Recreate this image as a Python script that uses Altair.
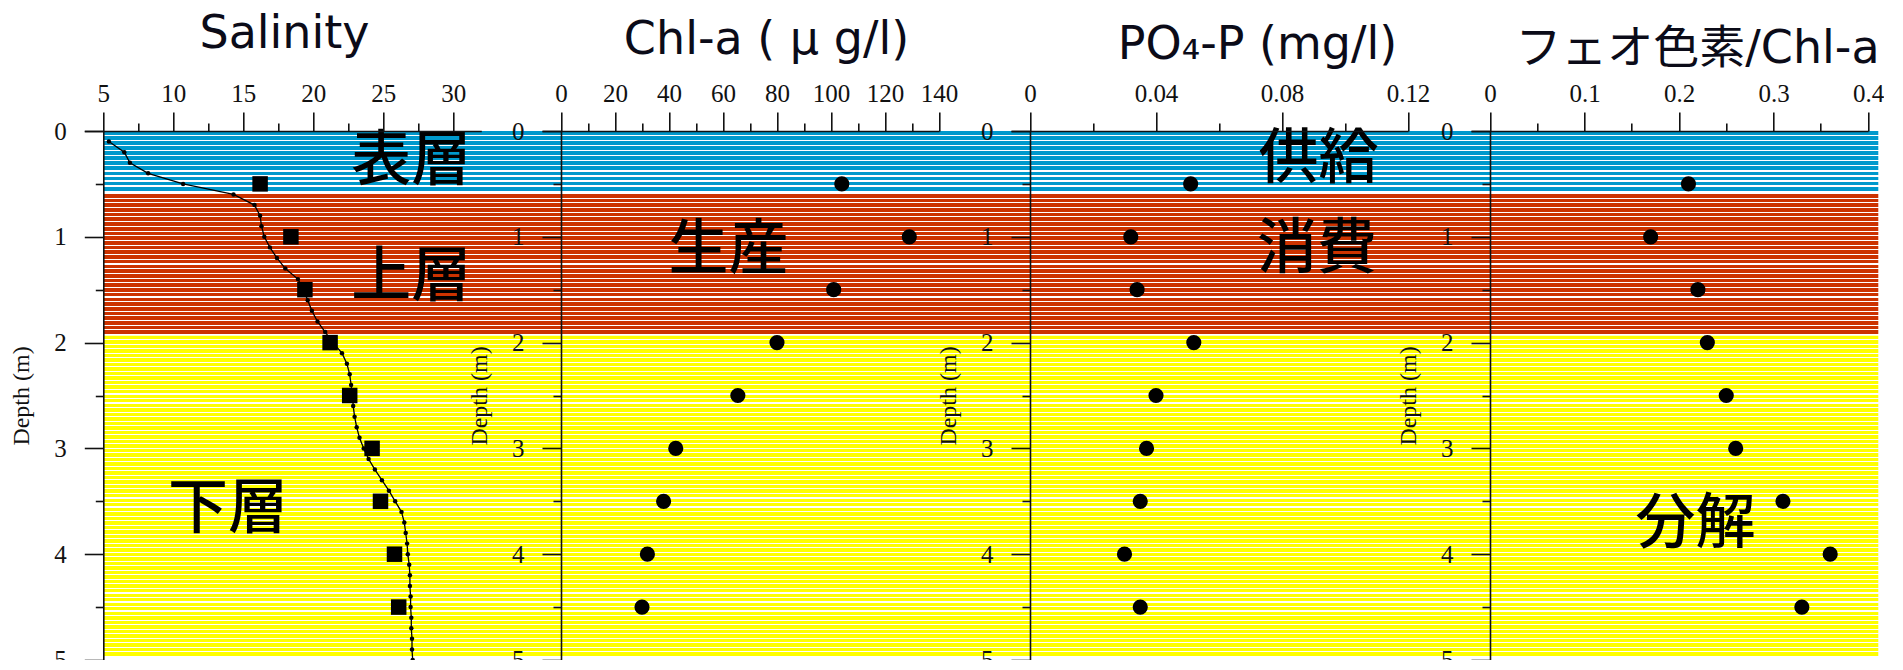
import altair as alt
import pandas as pd

# ---------------- data ----------------
sample_depth = [0.5, 1.0, 1.5, 2.0, 2.5, 3.0, 3.5, 4.0, 4.5]
salinity_sample = [16.2, 18.4, 19.4, 21.2, 22.6, 24.2, 24.8, 25.8, 26.1]
chla = [104, 129, 101, 80, 65.5, 42.5, 38, 32, 30]
po4p = [0.051, 0.032, 0.034, 0.052, 0.040, 0.037, 0.035, 0.030, 0.035]
phaeo_ratio = [0.21, 0.17, 0.22, 0.23, 0.25, 0.26, 0.31, 0.36, 0.33]

profile_depth = [0.1, 0.2, 0.3, 0.4, 0.5, 0.6, 0.7, 0.8, 0.9, 1.0,
                 1.1, 1.2, 1.3, 1.4, 1.5, 1.6, 1.7, 1.8, 1.9, 2.0,
                 2.1, 2.2, 2.3, 2.4, 2.5, 2.6, 2.7, 2.8, 2.9, 3.0,
                 3.1, 3.2, 3.3, 3.4, 3.5, 3.6, 3.7, 3.8, 3.9, 4.0,
                 4.1, 4.2, 4.3, 4.4, 4.5, 4.6, 4.7, 4.8, 4.9, 5.0]
profile_salinity = [5.4, 6.5, 6.9, 8.2, 10.7, 14.3, 15.8, 16.2, 16.3, 16.5,
                    16.9, 17.4, 18.0, 18.9, 19.3, 19.6, 19.9, 20.3, 20.85, 21.4,
                    22.05, 22.4, 22.6, 22.7, 22.8, 22.85, 22.95, 23.1, 23.3, 23.6,
                    23.95, 24.4, 24.9, 25.4, 25.85, 26.3, 26.5, 26.6, 26.7, 26.75,
                    26.85, 26.9, 26.9, 26.95, 26.95, 27.0, 27.0, 27.05, 27.05, 27.1]

band_name = ["surface", "upper", "lower"]
band_top = [0.0, 0.595, 1.935]
band_bottom = [0.575, 1.93, 4.97]
band_color = ["#0099cc", "#cc3300", "#ffff00"]

panel_title = ["Salinity", "Chl-a ( μ g/l)", "PO₄-P (mg/l)", "フェオ色素/Chl-a"]
x_domain = [[5, 32], [0, 140], [0, 0.12], [0, 0.4]]
x_major = [[5, 10, 15, 20, 25, 30],
           [0, 20, 40, 60, 80, 100, 120, 140],
           [0, 0.04, 0.08, 0.12],
           [0, 0.1, 0.2, 0.3, 0.4]]
x_minor = [[7.5, 12.5, 17.5, 22.5, 27.5],
           [10, 30, 50, 70, 90, 110, 130],
           [0.02, 0.06, 0.10],
           [0.05, 0.15, 0.25, 0.35]]
depth_major = [0, 1, 2, 3, 4, 5]
depth_minor = [0.5, 1.5, 2.5, 3.5, 4.5]

anno_panel = [0, 0, 0, 1, 2, 2, 3]
anno_text = ["表層", "上層", "下層", "生産", "供給", "消費", "分解"]
anno_x = [27.0, 27.0, 13.9, 62.0, 0.0916, 0.0911, 0.2175]
anno_depth = [0.29, 1.39, 3.58, 1.13, 0.27, 1.125, 3.72]

# ---------------- layout (pixels) ----------------
X0, Y0 = 103.3, 131.0          # page position of plot origin
W, H = 1775, 529               # plot area
PANEL_W = 378
EXT = 19                       # top axis line extends left to the tick ends
panel_start = [0, 457.7, 926.7, 1386.7]
title_cx = [284, 766, 1257, 1697]
title_base = [47, 53, 58, 62]

SERIF = "Liberation Serif"
TITLE_FONT = "DejaVu Sans, Noto Sans CJK JP"
CJK = "Noto Sans CJK JP"

yscale = alt.Scale(domain=[0, 5], range=[0, H], nice=False, zero=False)


def xscale(i):
    lo, hi = x_domain[i]
    per = (hi - lo) / PANEL_W
    s = panel_start[i]
    return alt.Scale(domain=[lo - EXT * per, hi], range=[s - EXT, s + PANEL_W],
                     nice=False, zero=False)


def x_axis_major(i):
    return alt.Axis(orient="top", values=x_major[i], labelExpr="'' + datum.value",
                    labelOverlap=False, labelFlush=False, tickSize=19,
                    labelPadding=6, labelFont=SERIF, labelFontSize=25, zindex=2,
                    title=panel_title[i], titleFont=TITLE_FONT, titleFontSize=46,
                    titleFontWeight="normal", titleColor="#0b0b18",
                    titleX=title_cx[i] - X0, titleY=title_base[i] - Y0,
                    titleAlign="center", titleBaseline="alphabetic", titleAngle=0)


def x_axis_minor(i):
    return alt.Axis(orient="top", values=x_minor[i], tickSize=8, labels=False,
                    domain=False, title=None, zindex=2)


def y_axis_major(i):
    return alt.Axis(orient="left", offset=-panel_start[i], values=depth_major,
                    labelExpr="'' + datum.value", labelOverlap=False,
                    labelFlush=False, tickSize=19, labelPadding=18,
                    labelFont=SERIF, labelFontSize=25, title="Depth (m)",
                    titleFont=SERIF, titleFontSize=24, titleFontWeight="normal",
                    titlePadding=20, zindex=2)


def y_axis_minor(i):
    return alt.Axis(orient="left", offset=-panel_start[i], values=depth_minor,
                    tickSize=8, labels=False, domain=False, title=None, zindex=2)


# ---------------- stripes for the background bands ----------------
def stripes(color, height_px, period, white):
    n = max(1, round(height_px / period))
    f = 1 - white / period
    stops = []
    for k in range(n):
        a, b, c = k / n, (k + f) / n, (k + 1) / n
        stops += [alt.GradientStop(color=color, offset=a),
                  alt.GradientStop(color=color, offset=b),
                  alt.GradientStop(color="white", offset=b),
                  alt.GradientStop(color="white", offset=min(c, 1.0))]
    return alt.LinearGradient(gradient="linear", stops=stops, x1=0, x2=0, y1=0, y2=1)


band_df = pd.DataFrame({"band": band_name, "top": band_top, "bottom": band_bottom})
periods = [5.1, 4.7, 4.5]
whites = [1.3, 1.1, 1.1]
band_layers = []
for j, name in enumerate(band_name):
    hpx = (band_bottom[j] - band_top[j]) * H / 5
    band_layers.append(
        alt.Chart(band_df).transform_filter(alt.datum.band == name)
        .mark_rect(fill=stripes(band_color[j], hpx, periods[j], whites[j]), opacity=1)
        .encode(y=alt.Y("top:Q", scale=yscale, axis=None), y2="bottom:Q",
                x=alt.value(0), x2=alt.value("width"))
    )

# ---------------- panels ----------------
samples = pd.DataFrame({"depth": sample_depth, "sal": salinity_sample,
                        "chla": chla, "po4": po4p, "ratio": phaeo_ratio})
profile = pd.DataFrame({"depth": profile_depth, "sal": profile_salinity})
anno = pd.DataFrame({"panel": anno_panel, "text": anno_text,
                     "x": anno_x, "depth": anno_depth})

fields = ["sal", "chla", "po4", "ratio"]
panel_layers = []
for i, fld in enumerate(fields):
    xs = xscale(i)
    xa = x_axis_major(i)
    ya = y_axis_major(i)
    parts = []
    if i == 0:
        parts.append(
            alt.Chart(profile).mark_line(
                color="black", strokeWidth=1.3,
                point=alt.OverlayMarkDef(filled=True, size=20, color="black"))
            .encode(x=alt.X("sal:Q", scale=xs, axis=xa),
                    y=alt.Y("depth:Q", scale=yscale, axis=ya),
                    order=alt.Order("depth:Q"))
        )
        parts.append(
            alt.Chart(samples).mark_point(shape="square", filled=True, size=240,
                                          color="black", opacity=1)
            .encode(x=alt.X("sal:Q", scale=xs, axis=xa),
                    y=alt.Y("depth:Q", scale=yscale, axis=ya))
        )
    else:
        parts.append(
            alt.Chart(samples).mark_circle(size=230, color="black", opacity=1)
            .encode(x=alt.X(f"{fld}:Q", scale=xs, axis=xa),
                    y=alt.Y("depth:Q", scale=yscale, axis=ya))
        )
    parts.append(
        alt.Chart(anno).transform_filter(alt.datum.panel == i)
        .mark_text(font=CJK, fontSize=60, fontWeight=500, color="black",
                   align="center", baseline="middle")
        .encode(x=alt.X("x:Q", scale=xs, axis=xa),
                y=alt.Y("depth:Q", scale=yscale, axis=ya),
                text="text:N")
    )
    panel_layers.append(alt.layer(*parts))
    # minor ticks of this panel
    panel_layers.append(
        alt.Chart(samples).mark_point(opacity=0)
        .encode(x=alt.X(f"{fld}:Q", scale=xscale(i), axis=x_axis_minor(i)),
                y=alt.Y("depth:Q", scale=yscale, axis=y_axis_minor(i)))
    )

chart = (
    alt.layer(*band_layers, *panel_layers)
    .resolve_scale(x="independent", y="independent")
    .properties(width=W, height=H,
                padding={"left": X0 - 8, "top": Y0 - 8, "right": 6, "bottom": 0},
                autosize=alt.AutoSizeParams(type="none"))
    .configure_view(stroke=None)
    .configure_axis(grid=False, domainColor="#111", domainWidth=1.6,
                    tickColor="#111", tickWidth=1.6, labelColor="#111",
                    titleColor="#111")
)

chart.save("out.html", embed_options={"renderer": "svg", "actions": False})
